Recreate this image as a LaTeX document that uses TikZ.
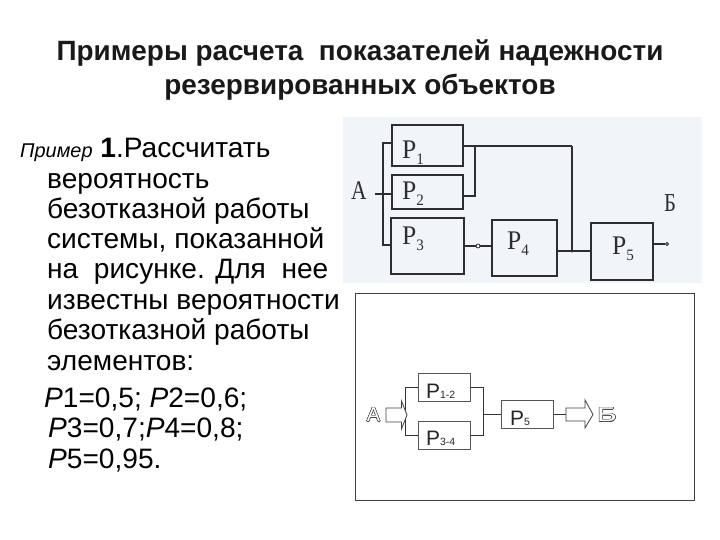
\documentclass[tikz,border=0pt]{standalone}
\usepackage{fontspec}
\usepackage{contour}
\setmainfont{Liberation Sans}
\newfontfamily\scanfont[FakeStretch=0.95]{Liberation Serif}
\newfontfamily\scanletter[FakeStretch=0.8]{Liberation Serif}
\contourlength{0.5bp}
\definecolor{scanbg}{HTML}{F1F4F9}
\definecolor{scanink}{HTML}{2E2E30}
\definecolor{cleanink}{HTML}{555555}
\tikzset{
  ttl/.style={font=\fontsize{28}{30}\selectfont\bfseries, anchor=base, inner sep=0pt, text=black!90},
  body/.style={font=\fontsize{28.2}{30}\selectfont, anchor=base west, inner sep=0pt, text=black},
  scanbox/.style={draw=scanink, line width=1.4bp, inner sep=0pt},
  scanline/.style={draw=scanink, line width=1.1bp},
  scanheavy/.style={draw=scanink, line width=2bp},
  scanlabel/.style={font=\scanfont\fontsize{27}{27}\selectfont, anchor=base west, inner sep=0pt, text=scanink},
  knot/.style={circle, draw=scanink, line width=0.8bp, fill=scanbg, inner sep=0pt, minimum size=4bp},
  cleanbox/.style={draw=cleanink, line width=1bp, fill=white, inner sep=0pt, minimum width=52bp, minimum height=28bp},
  cleanline/.style={draw=black!80, line width=0.9bp},
  cleanlabel/.style={font=\fontsize{21}{21}\selectfont, anchor=base west, inner sep=0pt, text=black!85},
  blockarrow/.style={draw=black!75, line width=0.8bp, fill=white, line join=miter},
  outlined/.style={font=\fontsize{20}{20}\selectfont, inner sep=0pt}
}
\newcommand{\cleansub}[1]{{\fontsize{10.5}{10.5}\selectfont #1}}
\newcommand{\scansub}[1]{\raisebox{-6bp}{\fontsize{16}{16}\selectfont #1}}
\begin{document}
\begin{tikzpicture}[x=1bp,y=-1bp]
\useasboundingbox (0,0) rectangle (720,540);
\fill[white] (0,0) rectangle (720,540);
% title
\node[ttl] (t1) at (360,61) {Примеры расчета\ \ показателей надежности};
\node[ttl] (t2) at (360,95) {резервированных объектов};
% body text
\node[body] (l1) at (20,158) {{\fontsize{20}{20}\selectfont\itshape Пример} \textbf{1}.Рассчитать};
\node[body] (l2) at (47,188.5) {вероятность};
\node[body] (l3) at (47,218.5) {безотказной работы};
\node[body] (l4) at (47,249) {системы, показанной};
\node[body] (l5) at (47,279) {на\ \ рисунке. Для\ \ нее};
\node[body] (l6) at (47,309) {известны вероятности};
\node[body] (l7) at (47,339.5) {безотказной работы};
\node[body] (l8) at (47,370) {элементов:};
\node[body] (l9) at (44,407) {\textit{P}1=0,5; \textit{P}2=0,6;};
\node[body] (l10) at (48,437) {\textit{P}3=0,7;\textit{P}4=0,8;};
\node[body] (l11) at (48,468) {\textit{P}5=0,95.};
% scanned diagram
\fill[scanbg] (343,117) rectangle (702,283);
\node[scanbox, minimum width=71bp, minimum height=41bp] (p1) at (427.5,145.5) {};
\node[scanbox, minimum width=71bp, minimum height=34bp] (p2) at (427.5,192) {};
\node[scanbox, minimum width=73bp, minimum height=56bp] (p3) at (427.5,246) {};
\node[scanbox, minimum width=65bp, minimum height=56bp] (p4) at (524.5,248) {};
\node[scanbox, minimum width=62bp, minimum height=57bp] (p5) at (622,251.5) {};
\node[scanlabel] (lp1) at (402,159) {P\scansub{1}};
\node[scanlabel] (lp2) at (402,200) {P\scansub{2}};
\node[scanlabel] (lp3) at (402,245) {P\scansub{3}};
\node[scanlabel] (lp4) at (507,250) {P\scansub{4}};
\node[scanlabel] (lp5) at (612,255) {P\scansub{5}};
\node[font=\scanletter\fontsize{27}{27}\selectfont, anchor=base, inner sep=0pt, text=scanink] (la) at (359,200) {А};
\node[font=\scanletter\fontsize{26}{26}\selectfont, anchor=base, inner sep=0pt, text=scanink] (lb) at (670,212) {Б};
\coordinate (a0) at (375,194);
\coordinate (bt) at (383,143);
\coordinate (bm) at (383,194);
\coordinate (bb) at (383,245);
\draw[scanheavy] (a0) -- (bm);
\draw[scanline] (p1.west |- bt) -- (bt) -- (bb) -- (p3.west |- bb);
\draw[scanheavy] (bm) -- (p2.west |- bm);
\coordinate (r1) at (475,146);
\coordinate (r2) at (475,196);
\coordinate (r3) at (572,146);
\coordinate (r4) at (572,251);
\draw[scanline] (p1.east |- r1) -- (r1) -- (r2) -- (p2.east |- r2);
\draw[scanheavy] (r1) -- (r3);
\draw[scanline] (r3) -- (r4);
\draw[scanline] (p4.east |- r4) -- (p5.west |- r4);
\coordinate (k1) at (478,246);
\draw[scanline] (p3.east |- k1) -- (p4.west |- k1);
\node[knot] (kn1) at (k1) {};
\fill[scanink] (r4) circle (1.6bp);
\coordinate (o1) at (667,244);
\node[knot, minimum size=3bp] (kn2) at (o1) {};
\draw[scanline] (p5.east |- o1) -- (kn2);
% clean diagram
\draw[draw=black!75, line width=1bp] (355,293) rectangle (694,500);
\node[cleanbox] (c1) at (444,387) {};
\node[cleanbox] (c2) at (444,435) {};
\node[cleanbox] (c5) at (527.5,414.5) {};
\node[cleanlabel] (tc1) at (426,398) {P\cleansub{1-2}};
\node[cleanlabel] (tc2) at (426,445) {P\cleansub{3-4}};
\node[cleanlabel] (tc5) at (510,425) {P\cleansub{5}};
\coordinate (cl1) at (405,387);
\coordinate (cl2) at (405,435);
\coordinate (cr1) at (483,387);
\coordinate (cr2) at (483,435);
\coordinate (cm) at (483,414.5);
\draw[cleanline] (c1.west) -- (cl1) -- (cl2) -- (c2.west);
\draw[cleanline] (c1.east) -- (cr1) -- (cr2) -- (c2.east);
\draw[cleanline] (cm) -- (c5.west);
\coordinate (a1) at (386,408);
\coordinate (a2) at (566,408);
\draw[blockarrow] (a1) -- (401.5,408) -- (401.5,401) -- (407,415) -- (401.5,429) -- (401.5,422) -- (386,422) -- cycle;
\draw[blockarrow] (a2) -- (585,408) -- (585,400) -- (593,414.5) -- (585,428) -- (585,421) -- (566,421) -- cycle;
\draw[cleanline] (c5.east) -- (566,414.5);
\node[outlined] (oa) at (373.5,415) {\contour{black!70}{\textcolor{white}{А}}};
\node[outlined] (ob) at (607,415) {\contour{black!70}{\textcolor{white}{\scalebox{1.5}[1]{Б}}}};
\end{tikzpicture}
\end{document}
